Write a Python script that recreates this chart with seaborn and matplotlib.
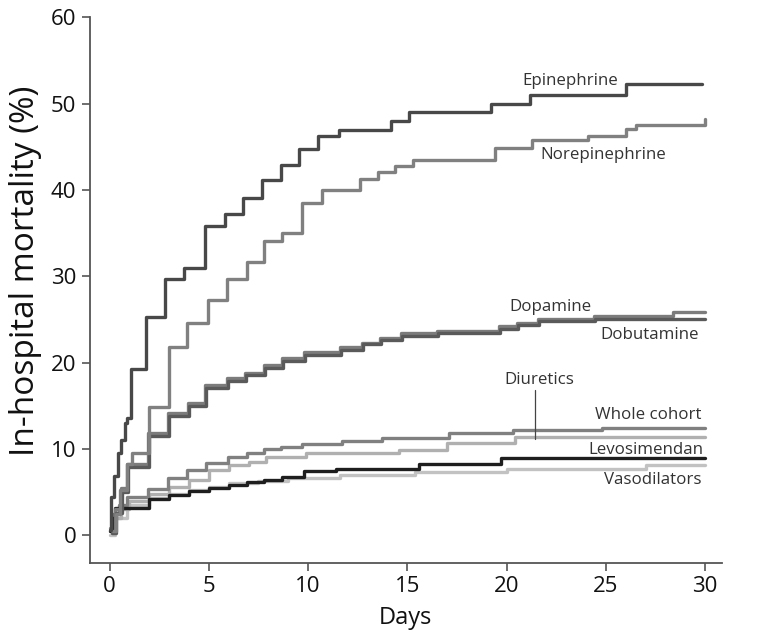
import numpy as np
import pandas as pd
import matplotlib
matplotlib.use('Agg')
import matplotlib.pyplot as plt
import seaborn as sns

# step curves: day where the step starts, mortality (%) after it
epi_days = [0, 0.05, 0.25, 0.42, 0.59, 0.76, 0.87, 1.06, 1.85, 2.77, 3.73, 4.79, 5.8, 6.7, 7.66,
            8.62, 9.53, 10.5, 11.56, 14.2, 15.1, 19.2, 21.2, 26.0, 29.85]
epi_vals = [0.6, 4.4, 6.8, 9.5, 11.0, 13.0, 13.6, 19.3, 25.3, 29.7, 31.0, 35.8, 37.2, 39.1, 41.1,
            42.9, 44.7, 46.2, 46.9, 48.0, 49.0, 50.0, 51.0, 52.3, 52.3]

norepi_days = [0.15, 0.35, 0.55, 0.9, 1.15, 1.98, 2.99, 3.9, 4.95, 5.9, 6.9, 7.8, 8.7, 9.7, 10.7,
               12.6, 13.5, 14.4, 15.3, 19.4, 21.3, 24.1, 26.0, 26.5, 30.0]
norepi_vals = [0.5, 2.5, 5.2, 8.3, 9.5, 14.9, 21.8, 24.6, 27.2, 29.7, 31.6, 34.1, 35.0, 38.5, 40.0,
               41.3, 42.1, 42.8, 43.5, 44.8, 45.8, 46.3, 47.0, 47.5, 48.2]

dopa_days = [0.1, 0.3, 0.6, 0.9, 1.93, 2.94, 3.95, 4.8, 5.9, 6.8, 7.8, 8.7, 9.8, 11.6, 12.7, 13.6,
             14.7, 16.5, 19.6, 20.5, 21.6, 24.4, 28.4, 30.0]
dopa_vals = [0.3, 3.0, 5.5, 8.3, 11.8, 14.1, 15.3, 17.4, 18.2, 18.8, 19.7, 20.5, 21.2, 21.8, 22.3, 22.8,
             23.4, 23.6, 24.2, 24.6, 25.1, 25.4, 25.9, 25.9]

dobu_days = [0.1, 0.35, 0.65, 0.95, 2.0, 2.98, 4.0, 4.85, 5.95, 6.85, 7.85, 8.75, 9.85, 11.65, 12.75,
             13.65, 14.75, 16.55, 19.65, 20.55, 21.65, 24.45, 30.0]
dobu_vals = [0.2, 2.6, 5.0, 7.9, 11.5, 13.8, 15.0, 17.1, 17.9, 18.6, 19.4, 20.2, 20.9, 21.5, 22.1,
             22.6, 23.1, 23.4, 23.9, 24.3, 24.8, 25.1, 25.1]

whole_days = [0, 0.15, 0.5, 0.9, 1.93, 2.94, 3.9, 4.87, 5.96, 6.9, 7.8, 8.65, 9.7, 11.7, 13.7, 17.1,
              20.3, 24.8, 30.0]
whole_vals = [0.8, 2.5, 3.5, 4.4, 5.3, 6.6, 7.5, 8.4, 9.1, 9.5, 10.0, 10.2, 10.6, 10.9, 11.3, 11.8,
              12.2, 12.4, 12.4]

diur_days = [0, 0.2, 0.6, 1.0, 2.0, 3.0, 4.0, 5.0, 6.0, 7.0, 7.9, 9.9, 14.6, 17.0, 20.4, 30.0]
diur_vals = [0.5, 2.0, 3.0, 4.0, 4.8, 5.6, 6.4, 7.5, 8.1, 8.5, 9.0, 9.5, 9.9, 10.7, 11.4, 11.4]

levo_days = [0, 0.1, 0.3, 2.0, 3.0, 4.0, 5.0, 6.0, 6.9, 7.8, 8.7, 9.8, 11.4, 15.6, 19.7, 30.0]
levo_vals = [0.5, 2.0, 3.1, 4.2, 4.6, 5.1, 5.5, 5.8, 6.1, 6.4, 6.7, 7.4, 7.7, 8.2, 8.9, 8.9]

vaso_days = [0, 0.3, 0.9, 2.0, 3.0, 4.0, 5.0, 6.0, 7.5, 9.0, 11.6, 15.4, 20.0, 27.0, 30.0]
vaso_vals = [0, 2.0, 3.5, 4.3, 4.8, 5.2, 5.6, 6.0, 6.3, 6.6, 6.95, 7.3, 7.7, 8.1, 8.1]

curves = [
    ('Vasodilators', vaso_days, vaso_vals, '#c2c2c2'),
    ('Diuretics', diur_days, diur_vals, '#b0b0b0'),
    ('Whole cohort', whole_days, whole_vals, '#808080'),
    ('Levosimendan', levo_days, levo_vals, '#1e1e1e'),
    ('Dopamine', dopa_days, dopa_vals, '#7c7c7c'),
    ('Dobutamine', dobu_days, dobu_vals, '#5a5a5a'),
    ('Norepinephrine', norepi_days, norepi_vals, '#808080'),
    ('Epinephrine', epi_days, epi_vals, '#484848'),
]

sns.set_style('ticks')
plt.rcParams['font.family'] = ['Open Sans', 'DejaVu Sans']

fig = plt.figure(figsize=(7.6, 6.4), dpi=100)
ax = fig.add_axes([0.118, 0.12, 0.832, 0.853])

for name, d, v, c in curves:
    df = pd.DataFrame({'day': d, 'mort': v})
    sns.lineplot(data=df, x='day', y='mort', ax=ax, color=c, linewidth=2.4,
                 drawstyle='steps-post', estimator=None, sort=False)

txt = dict(fontsize=12.2, color='#333333')
ax.text(25.64, 52.6, 'Epinephrine', ha='right', va='center', **txt)
ax.text(28.06, 44.1, 'Norepinephrine', ha='right', va='center', **txt)
ax.text(24.27, 26.45, 'Dopamine', ha='right', va='center', **txt)
ax.text(29.7, 23.2, 'Dobutamine', ha='right', va='center', **txt)
ax.text(21.66, 18.0, 'Diuretics', ha='center', va='center', **txt)
ax.text(29.8, 13.9, 'Whole cohort', ha='right', va='center', **txt)
ax.text(29.9, 9.9, 'Levosimendan', ha='right', va='center', **txt)
ax.text(29.8, 6.4, 'Vasodilators', ha='right', va='center', **txt)
ax.plot([21.45, 21.45], [16.8, 11.1], color='#444444', linewidth=0.9)

ax.set_xlim(-1.0, 30.85)
ax.set_ylim(-3.25, 60)
ax.set_xticks([0, 5, 10, 15, 20, 25, 30])
ax.set_yticks([0, 10, 20, 30, 40, 50, 60])
ax.set_xlabel('Days', fontsize=17, labelpad=6, color='#111111')
ax.set_ylabel('In-hospital mortality (%)', fontsize=24, color='#111111')
ax.yaxis.set_label_coords(-0.076, 0.535)
ax.tick_params(labelsize=16, length=6, width=1.2, color='#555555', labelcolor='#111111')
for s in ['left', 'bottom']:
    ax.spines[s].set_color('#555555')
    ax.spines[s].set_linewidth(1.3)
sns.despine(ax=ax)

fig.savefig('out.png', dpi=100)
